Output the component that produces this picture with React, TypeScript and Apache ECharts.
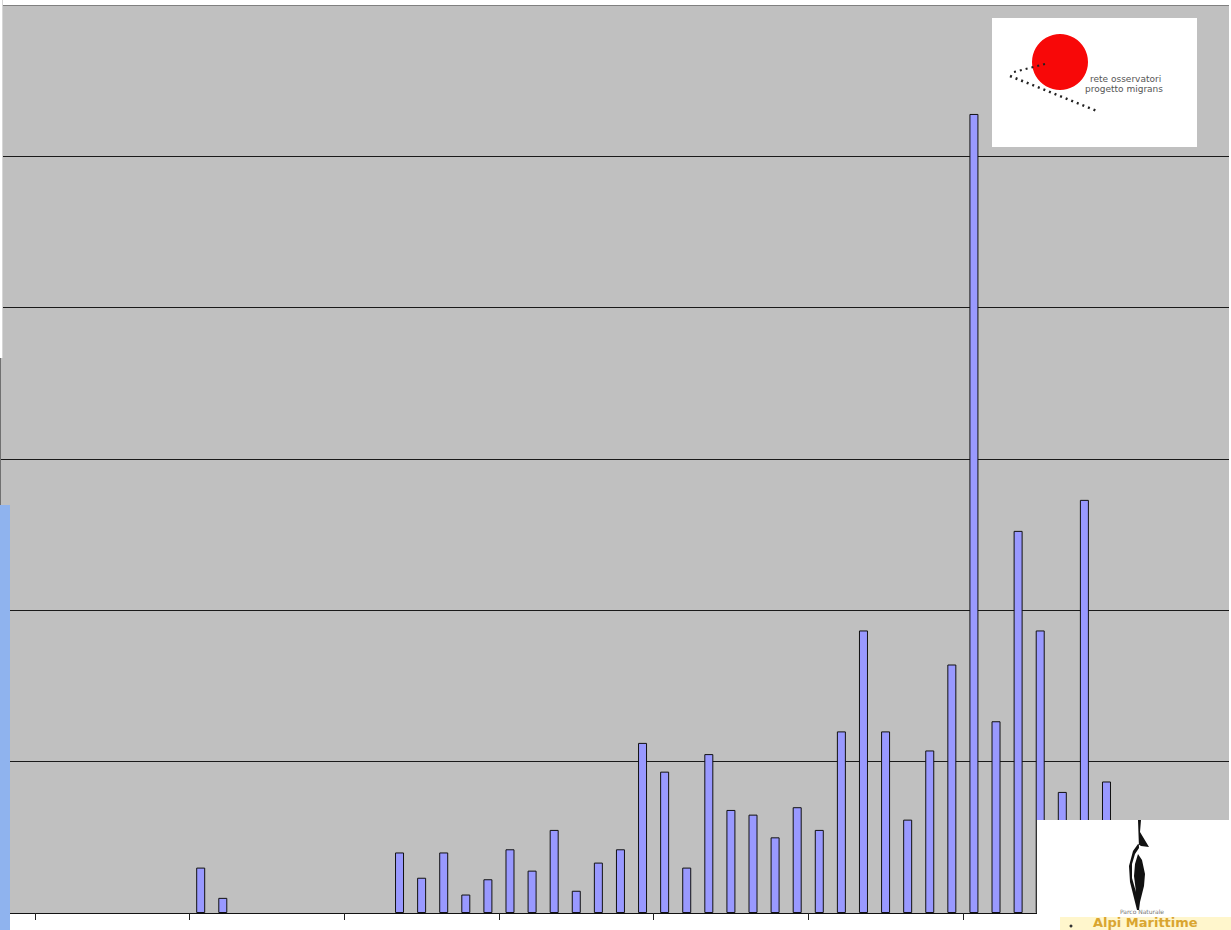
import React, { useEffect, useRef } from "react";
import * as echarts from "echarts";

// ---- data ----
const categories: string[] = Array.from({ length: 54 }, (_, i) => String(i + 1));
const values: (number | null)[] = [
  null, null, null, null, null, null, null,
  3, 1, null, null, null, null, null,
  null, null, 4, 2.33, 4, 1.22, 2.23,
  4.21, 2.8, 5.49, 1.47, 3.33, 4.21, 11.24,
  9.34, 3, 10.5, 6.81, 6.5, 5, 6.99,
  5.49, 12, 18.67, 12, 6.17, 10.74, 16.42,
  52.8, 12.67, 25.25, 18.67, 8, 27.3, 8.69,
  null, null, null, null, null,
];
const yMax = 60;
const yStep = 10;
const logoTopLines = ["rete osservatori", "progetto migrans"];
const logoBottomSmall = "Parco Naturale";
const logoBottomBig = "Alpi Marittime";

const birdPath =
  "M20 0 L23 0 L22 12 L31 27 L23 26 L20 24 L15 31 L11 46 L12 62 L17 82 L19 90 L21 90 L22 82 L26 66 L27 54 L24 40 L20 34 L17 44 L16 56 L18 72 L14 58 L14 44 L17 34 L21 28 Z";
echarts.graphic.registerShape("bird", echarts.graphic.extendPath(birdPath, {}));

const overlays: any[] = [
  { type: "rect", shape: { x: 0, y: 0, width: 2.5, height: 358 }, style: { fill: "#ffffff" } },
  { type: "line", shape: { x1: 2.5, y1: 0, x2: 2.5, y2: 358 }, style: { stroke: "#d6d6d6", lineWidth: 1 } },
  { type: "rect", shape: { x: 0, y: 505, width: 10, height: 425 }, style: { fill: "#8FB3EE" } },
  // top-right logo
  { type: "rect", shape: { x: 992, y: 18, width: 205, height: 129 }, style: { fill: "#ffffff" } },
  { type: "circle", shape: { cx: 1060, cy: 62, r: 28 }, style: { fill: "#F80808" } },
  { type: "line", shape: { x1: 1010, y1: 76, x2: 1097, y2: 111 }, style: { stroke: "#222", lineWidth: 2.5, lineDash: [2, 4] } },
  { type: "line", shape: { x1: 1014, y1: 72, x2: 1045, y2: 64 }, style: { stroke: "#222", lineWidth: 2, lineDash: [2, 4] } },
  { type: "text", x: 1090, y: 79, style: { text: logoTopLines[0], fontSize: 9, fill: "#555", fontFamily: "DejaVu Sans", verticalAlign: "middle" } },
  { type: "text", x: 1085, y: 89, style: { text: logoTopLines[1], fontSize: 9, fill: "#555", fontFamily: "DejaVu Sans", verticalAlign: "middle" } },
  // bottom-right logo
  { type: "rect", shape: { x: 1037, y: 820, width: 194, height: 110 }, style: { fill: "#ffffff" } },
  { type: "line", shape: { x1: 1036.5, y1: 820, x2: 1036.5, y2: 913 }, style: { stroke: "#333", lineWidth: 1 } },
  { type: "bird", x: 1118, y: 820, style: { fill: "#111" } },
  { type: "text", x: 1142, y: 911, style: { text: logoBottomSmall, fontSize: 6, fill: "#777", fontFamily: "DejaVu Sans", align: "center", verticalAlign: "middle" } },
  { type: "rect", shape: { x: 1060, y: 917, width: 171, height: 13 }, style: { fill: "#FFF6CC" } },
  { type: "circle", shape: { cx: 1071, cy: 926, r: 1.5 }, style: { fill: "#333" } },
  { type: "text", x: 1093, y: 916, style: { text: logoBottomBig, fontSize: 13, fontWeight: "bold", fill: "#D9A530", fontFamily: "DejaVu Sans", verticalAlign: "top" } },
].map((el) => ({ ...el, z: 50 }));

const option: any = {
  animation: false,
  backgroundColor: "#ffffff",
  grid: [
    { left: 0, right: 2, top: 5, bottom: 17, show: true, backgroundColor: "#C0C0C0", borderWidth: 0 },
    { left: 35, right: 3, top: 5, bottom: 17, show: false },
  ],
  xAxis: [
    { gridIndex: 0, type: "value", min: 0, max: 1, show: false },
    {
      gridIndex: 1,
      type: "category",
      data: categories,
      boundaryGap: true,
      axisLine: { show: true, lineStyle: { color: "#111", width: 1 } },
      axisTick: { show: true, interval: 6, length: 7, lineStyle: { color: "#222", width: 1 } },
      axisLabel: { show: false },
      splitLine: { show: false },
    },
  ],
  yAxis: [
    {
      gridIndex: 0,
      type: "value",
      min: 0,
      max: yMax,
      interval: yStep,
      position: "right",
      axisLine: { show: true, lineStyle: { color: "#707070", width: 1 } },
      axisTick: { show: false },
      axisLabel: { show: false },
      splitLine: {
        show: true,
        lineStyle: { color: ["#111", "#1a1a1a", "#1a1a1a", "#1a1a1a", "#1a1a1a", "#1a1a1a", "#808080"], width: 1 },
      },
    },
    { gridIndex: 1, type: "value", min: 0, max: yMax, interval: yStep, show: false, splitLine: { show: false } },
  ],
  series: [
    {
      type: "bar",
      xAxisIndex: 1,
      yAxisIndex: 1,
      data: values,
      barWidth: 9,
      itemStyle: { color: "#9999FF", borderColor: "#111", borderWidth: 1 },
      z: 3,
    },
  ],
  graphic: overlays,
};

export default function App() {
  const ref = useRef<HTMLDivElement>(null);
  useEffect(() => {
    const chart = echarts.init(ref.current!, null, { renderer: "svg" });
    chart.setOption(option);
    return () => chart.dispose();
  }, []);
  return (
    <div
      ref={ref}
      style={{ position: "fixed", left: 0, top: 0, width: 1231, height: 930, background: "#fff" }}
    />
  );
}
